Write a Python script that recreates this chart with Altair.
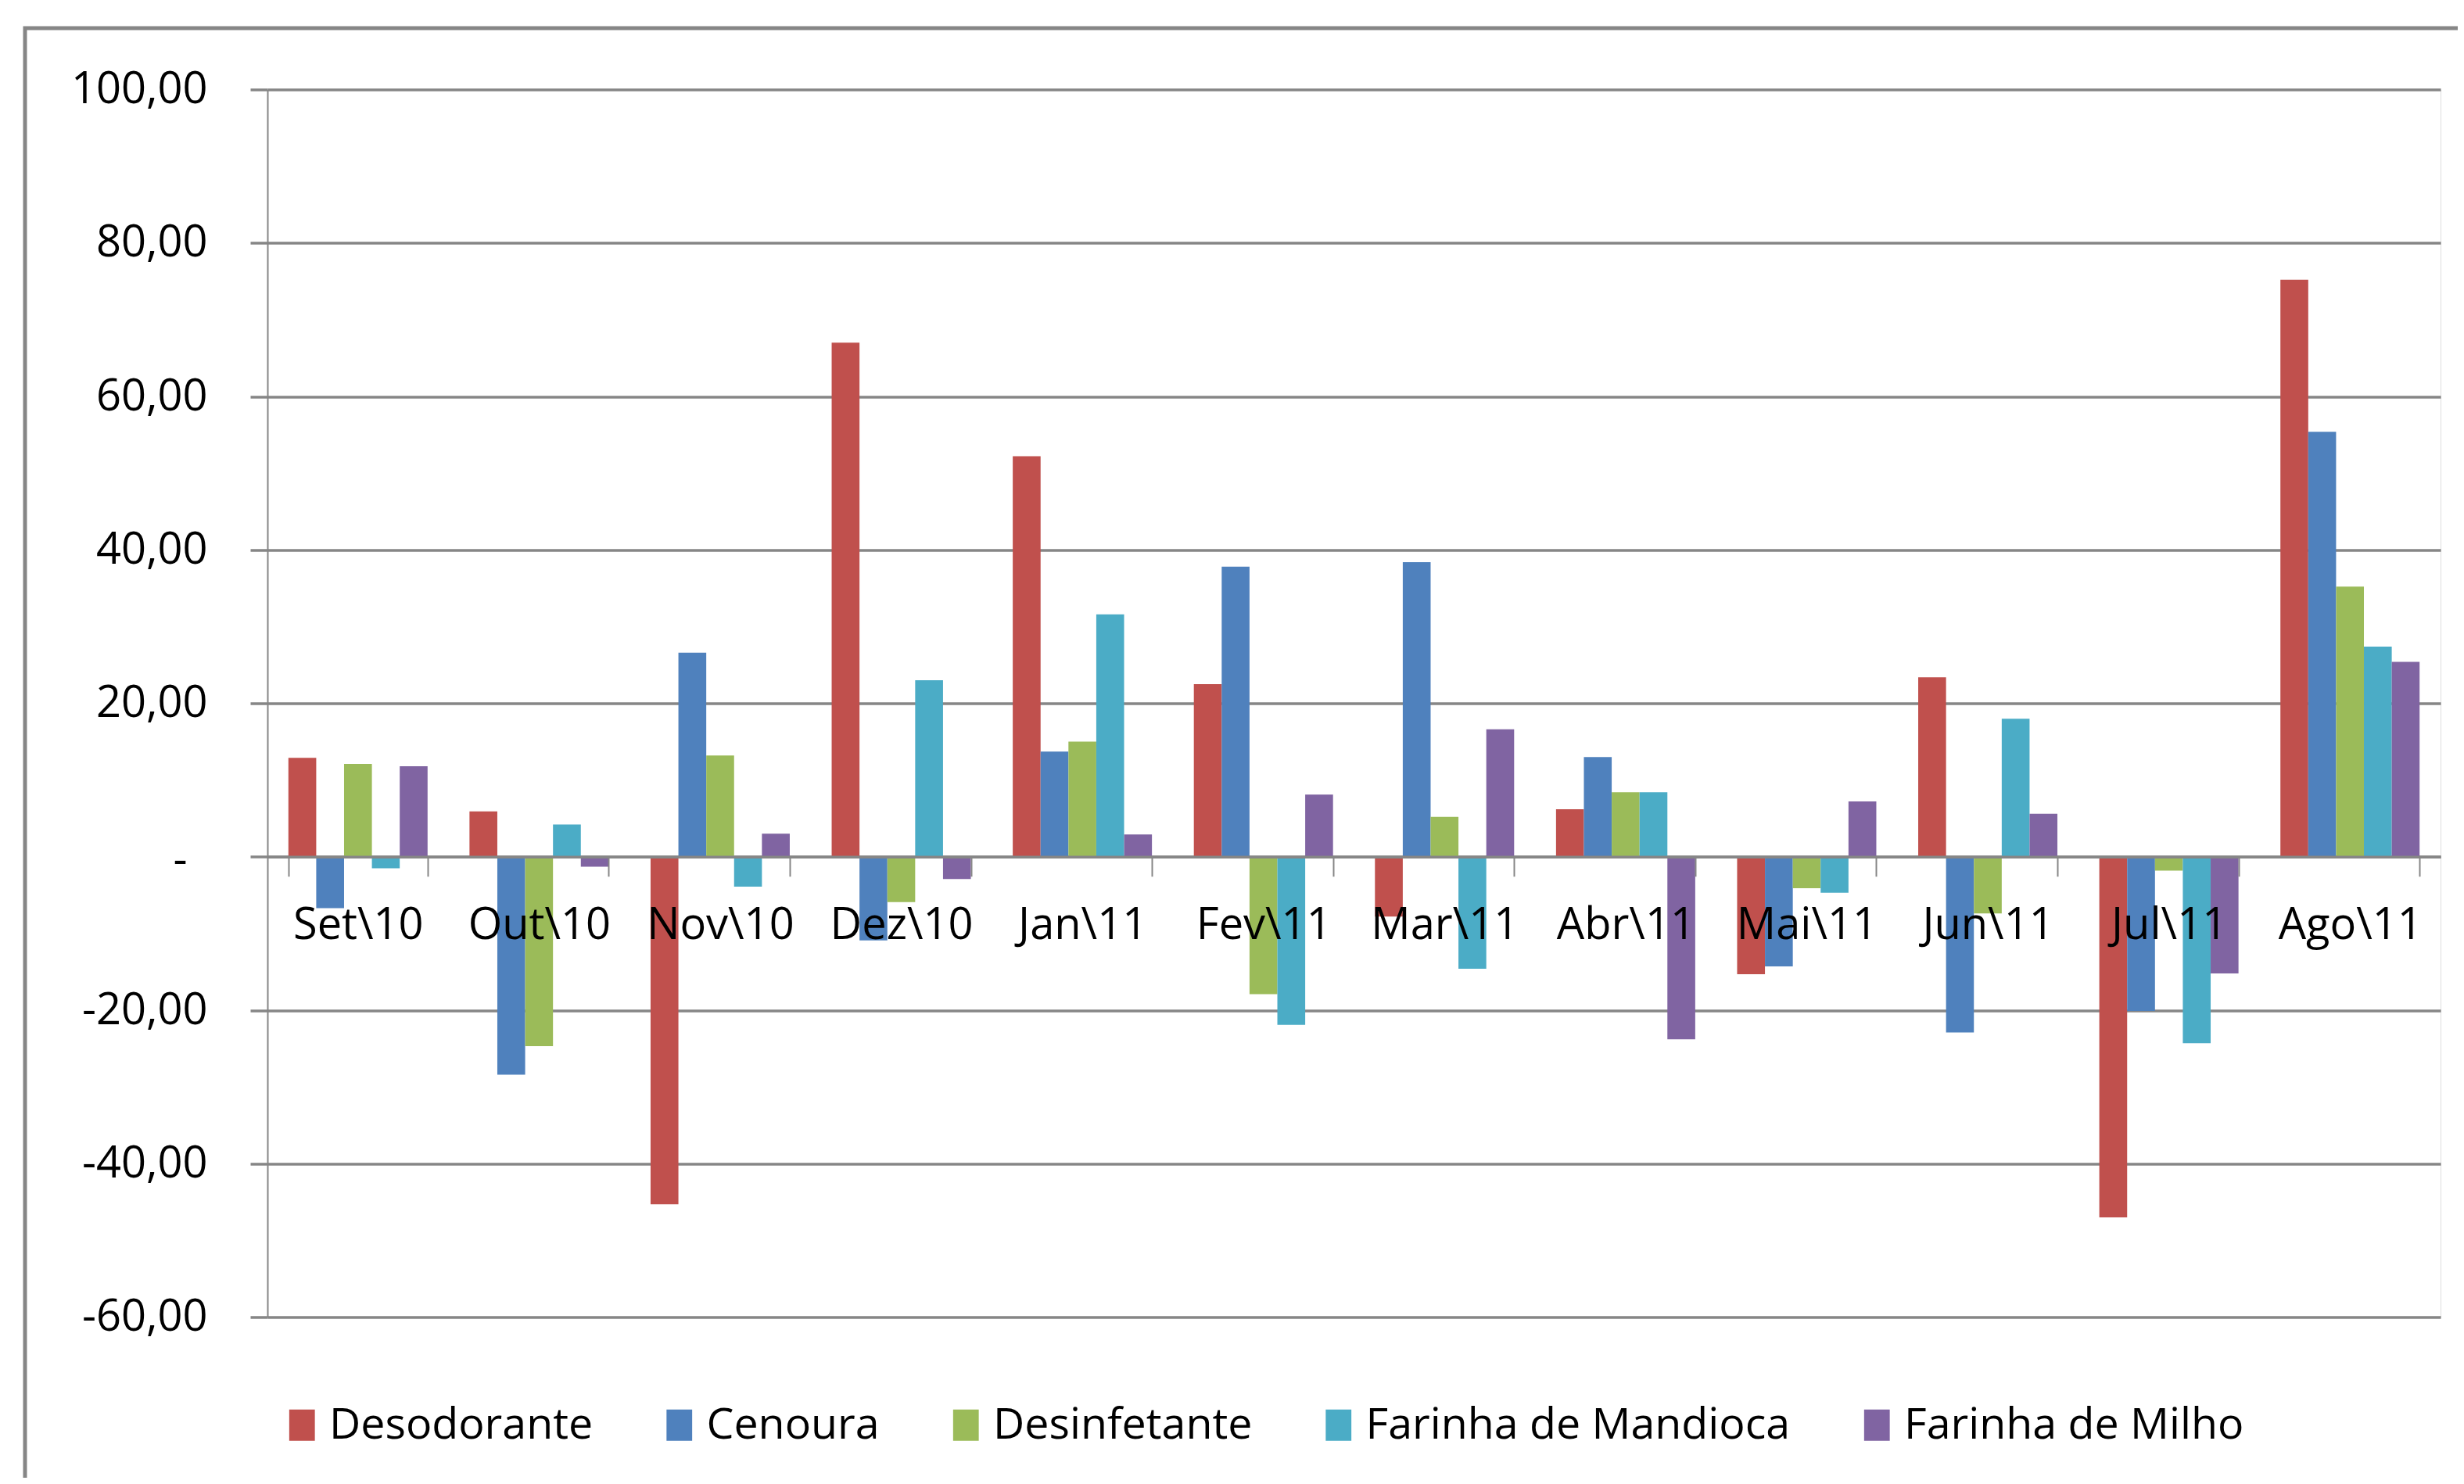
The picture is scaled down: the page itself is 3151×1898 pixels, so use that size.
import altair as alt
import pandas as pd

months = ["Set\\10", "Out\\10", "Nov\\10", "Dez\\10", "Jan\\11", "Fev\\11",
          "Mar\\11", "Abr\\11", "Mai\\11", "Jun\\11", "Jul\\11", "Ago\\11"]
series = ["Desodorante", "Cenoura", "Desinfetante", "Farinha de Mandioca", "Farinha de Milho"]
colors = ["#C0504D", "#4F81BD", "#9BBB59", "#4BACC6", "#8064A2"]

desodorante = [12.9, 5.9, -45.3, 67.0, 52.2, 22.5, -7.8, 6.2, -15.3, 23.4, -47.0, 75.2]
cenoura = [-6.7, -28.4, 26.6, -10.9, 13.7, 37.8, 38.4, 13.0, -14.3, -22.9, -20.1, 55.4]
desinfetante = [12.1, -24.7, 13.2, -5.9, 15.0, -17.9, 5.2, 8.4, -4.1, -7.4, -1.8, 35.2]
farinha_mandioca = [-1.5, 4.2, -3.9, 23.0, 31.6, -21.9, -14.6, 8.4, -4.7, 18.0, -24.3, 27.4]
farinha_milho = [11.8, -1.3, 3.0, -2.9, 2.9, 8.1, 16.6, -23.8, 7.2, 5.6, -15.2, 25.4]

y_ticks = [-60, -40, -20, 0, 20, 40, 60, 80, 100]

values = [desodorante, cenoura, desinfetante, farinha_mandioca, farinha_milho]
rows = []
for s, vals in zip(series, values):
    for m, v in zip(months, vals):
        rows.append({"Mês": m, "Série": s, "Valor": v})
df = pd.DataFrame(rows)

FONT = "Open Sans"
GRAY = "#868686"
W, H = 2779, 1570

bars = alt.Chart(df).mark_bar().encode(
    x=alt.X("Mês:N", sort=months,
            scale=alt.Scale(paddingInner=0.2314, paddingOuter=0.1157),
            axis=alt.Axis(title=None, labelAngle=0, orient="bottom",
                          offset=-(60 * H / 160), zindex=1,
                          domainColor=GRAY, domainWidth=3.5,
                          tickColor=GRAY, tickWidth=2, tickSize=25,
                          tickBand="extent",
                          labelFont=FONT, labelFontSize=56, labelColor="#000000",
                          labelPadding=36, labelLimit=1000, grid=False)),
    xOffset=alt.XOffset("Série:N", sort=series),
    y=alt.Y("Valor:Q",
            scale=alt.Scale(domain=[-60, 100], nice=False, zero=False),
            axis=alt.Axis(title=None, values=y_ticks,
                          labelExpr="datum.value == 0 ? '-' : (datum.value < 0 ? '-' : '') + replace(format(abs(datum.value), '.2f'), '.', ',')",
                          labelFont=FONT, labelFontSize=56, labelColor="#000000",
                          labelPadding={"condition": {"test": "datum.value == 0", "value": 81}, "value": 55},
                          labelOffset={"condition": {"test": "datum.value == 0", "value": 5}, "value": 0},
                          tickSize=22, tickColor=GRAY, tickWidth=3.5,
                          domainColor=GRAY, domainWidth=2,
                          grid=True, gridColor=GRAY, gridWidth=3.5)),
    color=alt.Color("Série:N", sort=series,
                    scale=alt.Scale(domain=series, range=colors),
                    title=None,
                    legend=alt.Legend(orient="none", legendX=16.5, legendY=1680,
                                      direction="horizontal", columns=5,
                                      symbolType="M-0.82,-1H0.82V1H-0.82Z",
                                      symbolSize=1600,
                                      symbolStrokeWidth=0,
                                      labelFont=FONT, labelFontSize=55.5,
                                      labelColor="#000000", labelOffset=7,
                                      columnPadding=82.5, padding=0,
                                      labelLimit=1000)),
)

frame = alt.Chart(pd.DataFrame({"a": [0]})).mark_rect(
    fill="transparent", stroke=GRAY, strokeWidth=5
).encode(x=alt.value(-310), x2=alt.value(3200), y=alt.value(-78.5), y2=alt.value(2200))

chart = alt.layer(frame, bars).properties(
    width=W, height=H,
    autosize=alt.AutoSizeParams(type="none"),
    padding={"left": 334, "top": 106.5, "right": 22, "bottom": 205.5},
).configure_view(stroke=None).configure(background="white")

chart.save("out.html", embed_options={"renderer": "svg", "actions": False})
